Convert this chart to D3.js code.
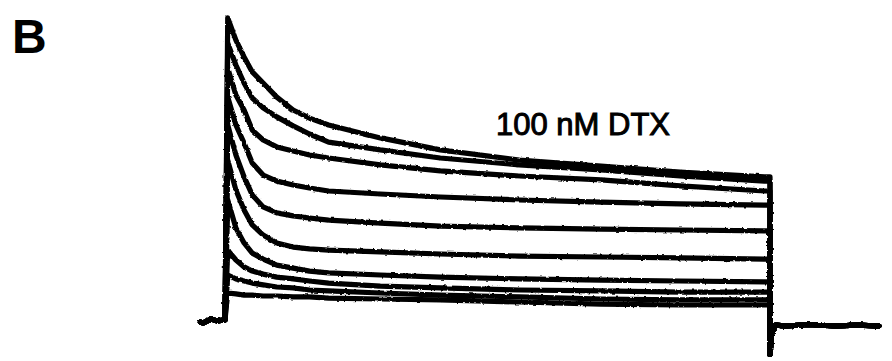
<!DOCTYPE html>
<html>
<head>
<meta charset="utf-8">
<script src="https://cdn.jsdelivr.net/npm/d3@7"></script>
<style>
  body { margin: 0; background: #fff; }
</style>
</head>
<body>
<div id="chart"></div>
<script>
"use strict"

// times (ms) sampled during the 200 ms depolarising step
let stepTimes = [1, 4, 7, 10, 14, 19, 25, 31, 38, 57, 79, 108, 138, 167, 198];

// current (nA) of each sweep at those times
let trace1 = [10.07, 9.33, 8.77, 8.27, 7.90, 7.43, 7.00, 6.73, 6.50, 6.07, 5.67, 5.33, 5.13, 4.93, 4.77];
let trace2 = [9.23, 8.50, 7.90, 7.40, 7.07, 6.77, 6.47, 6.20, 5.93, 5.67, 5.40, 5.17, 5.00, 4.80, 4.63];
let trace3 = [8.40, 7.50, 7.00, 6.33, 6.00, 5.77, 5.63, 5.50, 5.40, 5.17, 4.97, 4.80, 4.67, 4.47, 4.30];
let trace4 = [7.43, 6.50, 5.90, 5.23, 4.83, 4.63, 4.50, 4.40, 4.30, 4.20, 4.10, 4.00, 3.93, 3.87, 3.83];
let trace5 = [6.50, 5.50, 4.77, 4.17, 3.77, 3.57, 3.47, 3.40, 3.33, 3.23, 3.13, 3.07, 3.03, 3.00, 2.97];
let trace6 = [5.33, 4.33, 3.67, 3.17, 2.83, 2.57, 2.43, 2.37, 2.33, 2.27, 2.20, 2.13, 2.10, 2.07, 2.03];
let trace7 = [4.00, 3.07, 2.57, 2.23, 2.03, 1.83, 1.73, 1.63, 1.57, 1.50, 1.43, 1.37, 1.33, 1.30, 1.27];
let trace8 = [2.33, 2.00, 1.77, 1.63, 1.53, 1.43, 1.37, 1.30, 1.23, 1.13, 1.07, 1.00, 0.97, 0.93, 0.93];
let trace9 = [1.50, 1.37, 1.30, 1.23, 1.17, 1.10, 1.07, 1.00, 0.97, 0.90, 0.83, 0.77, 0.70, 0.67, 0.67];
let trace10 = [0.90, 0.87, 0.83, 0.83, 0.80, 0.80, 0.77, 0.77, 0.73, 0.70, 0.67, 0.60, 0.53, 0.50, 0.50];

// holding current before the step and tail current after it
let preTimes = [-9, -8, -6.5, -5, -3, 0];
let preValues = [-0.07, -0.1, -0.03, 0.03, -0.03, 0];
let tailTimes = [200, 200.6, 202, 206, 214, 224, 232, 240];
let tailValues = [-1.15, -0.45, -0.17, -0.2, -0.15, -0.2, -0.17, -0.2];

let labelText = "100 nM DTX";
let panelText = "B";

let traces = [trace1, trace2, trace3, trace4, trace5, trace6, trace7, trace8, trace9, trace10];

let width = 892,
    height = 361;

let svg = d3.select("#chart")
    .append("svg")
    .attr("width", width)
    .attr("height", height);

// a little displacement so the lines look like a scanned trace
let filter = svg.append("defs").append("filter")
    .attr("id", "rough")
    .attr("x", "-5%").attr("y", "-5%")
    .attr("width", "110%").attr("height", "110%");
filter.append("feTurbulence")
    .attr("type", "fractalNoise")
    .attr("baseFrequency", 0.25)
    .attr("numOctaves", 2)
    .attr("seed", 3)
    .attr("result", "noise");
filter.append("feDisplacementMap")
    .attr("in", "SourceGraphic")
    .attr("in2", "noise")
    .attr("scale", 2.5)
    .attr("xChannelSelector", "R")
    .attr("yChannelSelector", "G");

let x = d3.scaleLinear()
    .domain([0, 200])
    .range([225, 770]);

let y = d3.scaleLinear()
    .domain([-1.2, 10])
    .range([356, 20]);

let line = d3.line()
    .x(function (d) { return x(d[0]); })
    .y(function (d) { return y(d[1]); });

function buildSweep(values) {
    let pts = [];
    for (let i = 0; i < preTimes.length; i++) {
        pts.push([preTimes[i], preValues[i]]);
    }
    for (let i = 0; i < stepTimes.length; i++) {
        pts.push([stepTimes[i], values[i]]);
    }
    pts.push([200, values[values.length - 1]]);
    for (let i = 0; i < tailTimes.length; i++) {
        pts.push([tailTimes[i], tailValues[i]]);
    }
    return pts;
}

let g = svg.append("g")
    .attr("filter", "url(#rough)");

g.selectAll("path.sweep")
    .data(traces)
    .enter()
    .append("path")
    .attr("class", "sweep")
    .attr("d", function (d) { return line(buildSweep(d)); })
    .attr("fill", "none")
    .attr("stroke", "#000")
    .attr("stroke-width", 5.2)
    .attr("stroke-linejoin", "round")
    .attr("stroke-linecap", "round");

svg.append("text")
    .attr("x", 496)
    .attr("y", 135)
    .style("font-family", "'Liberation Sans', Arial, sans-serif")
    .style("font-size", "31px")
    .style("fill", "#000")
    .style("stroke", "#000")
    .style("stroke-width", 1)
    .text(labelText);

svg.append("text")
    .attr("x", 12)
    .attr("y", 53)
    .style("font-family", "'Liberation Sans', Arial, sans-serif")
    .style("font-size", "48px")
    .style("font-weight", "bold")
    .style("fill", "#000")
    .text(panelText);
</script>
</body>
</html>
